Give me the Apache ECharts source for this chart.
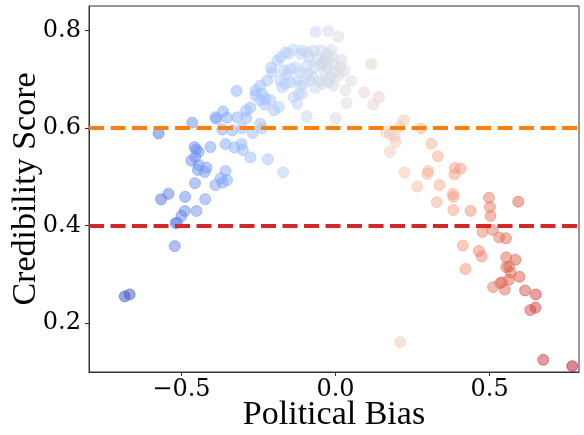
<!DOCTYPE html>
<html>
<head>
<meta charset="utf-8">
<script src="https://cdn.jsdelivr.net/npm/echarts@6/dist/echarts.min.js"></script>
<style>
  html, body { margin: 0; padding: 0; background: #fff; }
  #chart { width: 584px; height: 435px; }
</style>
</head>
<body>
<div id="chart"></div>
<script>
// values
var biasValues = [
  -0.684, -0.668, -0.522, -0.519, -0.514, -0.500, -0.489, -0.451, -0.566, -0.542,
  -0.488, -0.423, -0.456, -0.390, -0.367, -0.352, -0.357, -0.373, -0.468, -0.455,
  -0.444, -0.447, -0.419, -0.424, -0.458, -0.452, -0.444, -0.406, -0.357, -0.328,
  -0.305, -0.301, -0.276, -0.220, -0.170, -0.574, -0.465, -0.390, -0.386, -0.352,
  -0.365, -0.319, -0.290, -0.276, -0.289, -0.368, -0.335, -0.303, -0.269, -0.238,
  -0.244, -0.321, -0.124, -0.094, -0.200, -0.184, -0.230, -0.244, -0.260, -0.260,
  -0.244, -0.222, -0.206, -0.209, -0.189, -0.179, -0.162, -0.153, -0.136, -0.114,
  -0.108, -0.092, -0.071, -0.049, -0.027, -0.168, -0.157, -0.146, -0.130, -0.114,
  -0.092, -0.070, -0.049, -0.027, -0.179, -0.173, -0.162, -0.146, -0.124, -0.114,
  -0.081, -0.065, -0.043, -0.022, -0.238, -0.227, -0.211, -0.119, -0.136, -0.065,
  -0.023, 0.009, -0.013, -0.032, -0.006, 0.000, 0.011, 0.029, 0.051, -0.016,
  -0.007, -0.049, -0.092, -0.103, -0.108, 0.032, 0.036, 0.000, -0.060, -0.035,
  -0.010, 0.015, -0.075, -0.040, 0.020, -0.085,
  0.116, 0.092, 0.141, 0.122, 0.222, 0.209, 0.278, 0.162, 0.176, 0.192,
  0.195, 0.176, 0.311, 0.332, 0.387, 0.406, 0.386, 0.301, 0.298, 0.224,
  0.265, 0.337, 0.381, 0.382, 0.328, 0.382, 0.438, 0.498, 0.501, 0.503,
  0.593, 0.477, 0.510, 0.531, 0.553, 0.413, 0.465, 0.474, 0.422, 0.554,
  0.584, 0.554, 0.563, 0.568, 0.597, 0.563, 0.540, 0.534, 0.511, 0.549,
  0.615, 0.650, 0.649, 0.632, 0.210, 0.674, 0.768
];
var credibilityValues = [
  0.255, 0.259, 0.358, 0.405, 0.406, 0.420, 0.430, 0.430, 0.454, 0.465,
  0.459, 0.454, 0.487, 0.483, 0.488, 0.493, 0.512, 0.497, 0.533, 0.541,
  0.524, 0.514, 0.519, 0.510, 0.561, 0.556, 0.551, 0.561, 0.567, 0.560,
  0.567, 0.555, 0.540, 0.536, 0.509, 0.589, 0.611, 0.622, 0.619, 0.621,
  0.634, 0.622, 0.636, 0.642, 0.621, 0.597, 0.595, 0.600, 0.590, 0.599,
  0.609, 0.676, 0.650, 0.624, 0.636, 0.643, 0.648, 0.657, 0.667, 0.677,
  0.687, 0.697, 0.714, 0.724, 0.738, 0.745, 0.755, 0.752, 0.761, 0.752,
  0.759, 0.755, 0.759, 0.759, 0.752, 0.718, 0.711, 0.721, 0.724, 0.714,
  0.728, 0.724, 0.731, 0.724, 0.697, 0.684, 0.691, 0.694, 0.697, 0.687,
  0.697, 0.682, 0.691, 0.694, 0.670, 0.660, 0.657, 0.670, 0.663, 0.797,
  0.799, 0.787, 0.760, 0.742, 0.731, 0.714, 0.708, 0.718, 0.697, 0.704,
  0.687, 0.697, 0.711, 0.691, 0.670, 0.677, 0.651, 0.620, 0.740, 0.715,
  0.745, 0.725, 0.705, 0.735, 0.740, 0.745,
  0.731, 0.673, 0.663, 0.648, 0.616, 0.603, 0.599, 0.592, 0.587, 0.583,
  0.571, 0.551, 0.568, 0.542, 0.518, 0.517, 0.505, 0.512, 0.506, 0.509,
  0.480, 0.483, 0.465, 0.459, 0.448, 0.432, 0.430, 0.457, 0.438, 0.420,
  0.449, 0.387, 0.391, 0.376, 0.374, 0.359, 0.348, 0.337, 0.311, 0.335,
  0.330, 0.315, 0.316, 0.304, 0.295, 0.289, 0.284, 0.282, 0.274, 0.269,
  0.267, 0.259, 0.232, 0.227, 0.161, 0.125, 0.112
];
var xTicks = [-0.5, 0.0, 0.5];
var yTicks = [0.2, 0.4, 0.6, 0.8];
var thresholdHigh = 0.6;
var thresholdLow = 0.4;

// coolwarm colormap stops
var coolwarm = ['#3b4cc0', '#6282ea', '#8db0fe', '#b8d0f9', '#dddcdc', '#f5c4ac', '#f49a7b', '#db5f4b', '#b40426'];

function hexRgb(h) {
  return [parseInt(h.substr(1, 2), 16), parseInt(h.substr(3, 2), 16), parseInt(h.substr(5, 2), 16)];
}
function cmap(t) {
  t = Math.max(0, Math.min(1, t));
  var p = t * (coolwarm.length - 1);
  var i = Math.min(Math.floor(p), coolwarm.length - 2);
  var f = p - i;
  var a = hexRgb(coolwarm[i]), b = hexRgb(coolwarm[i + 1]);
  return [0, 1, 2].map(function (k) { return Math.round(a[k] + (b[k] - a[k]) * f); });
}

var xMin = Math.min.apply(null, biasValues);
var xMax = Math.max.apply(null, biasValues);
var points = [];
for (var i = 0; i < biasValues.length; i++) {
  var c = cmap((biasValues[i] - xMin) / (xMax - xMin));
  var rgb = c.join(',');
  points.push({
    value: [biasValues[i], credibilityValues[i]],
    itemStyle: {
      color: 'rgba(' + rgb + ',0.62)',
      borderColor: 'rgba(' + rgb + ',0.62)',
      borderWidth: 1
    }
  });
}

function fmt(v) {
  return (v < 0 ? '\u2212' : '') + Math.abs(v).toFixed(1);
}

var myChart = echarts.init(document.getElementById('chart'), null, { renderer: 'canvas' });
myChart.setOption({
  animation: false,
  backgroundColor: '#fff',
  grid: {
    left: 89,
    right: 5,
    top: 6,
    bottom: 63,
    outerBoundsMode: 'none',
    containLabel: false,
    show: true,
    borderColor: '#333',
    borderWidth: 1
  },
  xAxis: {
    type: 'value',
    min: -0.8,
    max: 0.79,
    name: 'Political Bias',
    nameLocation: 'middle',
    nameGap: 26,
    nameMoveOverlap: false,
    nameTextStyle: { fontFamily: 'Liberation Serif', fontSize: 34, color: '#000', verticalAlign: 'top', padding: [0, 0, 0, 0] },
    axisLine: { show: true, onZero: false, lineStyle: { color: '#333', width: 1 } },
    axisTick: { show: true, length: 4, lineStyle: { color: '#333' }, customValues: xTicks },
    axisLabel: {
      customValues: xTicks,
      fontFamily: 'DejaVu Serif',
      fontSize: 24,
      color: '#000',
      margin: 6,
      formatter: fmt
    },
    splitLine: { show: false }
  },
  yAxis: {
    type: 'value',
    min: 0.1,
    max: 0.85,
    name: 'Credibility Score',
    nameLocation: 'middle',
    nameGap: 46,
    nameMoveOverlap: false,
    nameTextStyle: { fontFamily: 'Liberation Serif', fontSize: 34, color: '#000' },
    axisLine: { show: true, onZero: false, lineStyle: { color: '#333', width: 1 } },
    axisTick: { show: true, length: 4, lineStyle: { color: '#333' }, customValues: yTicks },
    axisLabel: {
      customValues: yTicks,
      fontFamily: 'DejaVu Serif',
      fontSize: 24,
      color: '#000',
      margin: 8,
      formatter: fmt
    },
    splitLine: { show: false }
  },
  series: [
    {
      type: 'scatter',
      symbolSize: 11,
      data: points,
      markLine: {
        silent: true,
        symbol: 'none',
        label: { show: false },
        lineStyle: { width: 4, type: [15, 6.5], opacity: 1 },
        data: [
          { yAxis: thresholdHigh, lineStyle: { color: '#ff7f0e' } },
          { yAxis: thresholdLow, lineStyle: { color: '#d62728' } }
        ]
      }
    }
  ]
});
</script>
</body>
</html>
